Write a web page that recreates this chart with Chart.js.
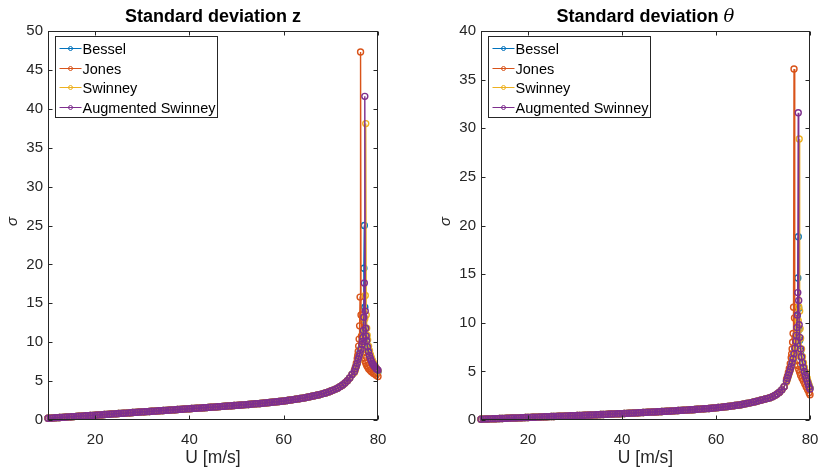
<!DOCTYPE html>
<html>
<head>
<meta charset="utf-8">
<script src="https://cdn.jsdelivr.net/npm/chart.js@4/dist/chart.umd.min.js"></script>
<style>
  html, body { margin: 0; padding: 0; background: #fff; }
  #wrap { position: relative; width: 821px; height: 476px; overflow: hidden; }
  #wrap canvas { position: absolute; top: 0; }
</style>
</head>
<body>
<div id="wrap">
  <canvas id="cz" width="410" height="476" style="left:0"></canvas>
  <canvas id="ct" width="411" height="476" style="left:410px"></canvas>
</div>
<script>
// Wind speed grid shared by all models below the flutter region [m/s]
const U_BASE = [
  10, 10.5, 11, 11.5, 12, 12.5, 13, 13.5, 14, 14.5,
  15, 15.5, 16, 16.5, 17, 17.5, 18, 18.5, 19, 19.5,
  20, 20.5, 21, 21.5, 22, 22.5, 23, 23.5, 24, 24.5,
  25, 25.5, 26, 26.5, 27, 27.5, 28, 28.5, 29, 29.5,
  30, 30.5, 31, 31.5, 32, 32.5, 33, 33.5, 34, 34.5,
  35, 35.5, 36, 36.5, 37, 37.5, 38, 38.5, 39, 39.5,
  40, 40.5, 41, 41.5, 42, 42.5, 43, 43.5, 44, 44.5,
  45, 45.5, 46, 46.5, 47, 47.5, 48, 48.5, 49, 49.5,
  50, 50.5, 51, 51.5, 52, 52.5, 53, 53.5, 54, 54.5,
  55, 55.5, 56, 56.5, 57, 57.5, 58, 58.5, 59, 59.5,
  60, 60.5, 61, 61.5, 62, 62.5, 63, 63.5, 64, 64.5,
  65, 65.5, 66, 66.5, 67, 67.5, 68, 68.5, 69, 69.5,
  70, 70.5, 71, 71.5, 72, 72.5, 73, 73.5, 74, 74.5
];

// Standard deviation of heave z (all models coincide here)
const Z_BASE = [
  0.22, 0.24, 0.26, 0.28, 0.30, 0.32, 0.34, 0.36, 0.38, 0.40,
  0.42, 0.44, 0.46, 0.48, 0.50, 0.52, 0.54, 0.56, 0.58, 0.60,
  0.62, 0.64, 0.66, 0.68, 0.70, 0.72, 0.74, 0.77, 0.79, 0.81,
  0.83, 0.85, 0.87, 0.89, 0.91, 0.93, 0.96, 0.98, 1.00, 1.02,
  1.04, 1.06, 1.08, 1.10, 1.12, 1.14, 1.16, 1.18, 1.20, 1.22,
  1.24, 1.26, 1.28, 1.30, 1.32, 1.35, 1.37, 1.39, 1.41, 1.43,
  1.45, 1.47, 1.49, 1.51, 1.53, 1.55, 1.57, 1.59, 1.62, 1.64,
  1.66, 1.68, 1.70, 1.72, 1.75, 1.77, 1.79, 1.81, 1.83, 1.86,
  1.88, 1.90, 1.93, 1.95, 1.98, 2.00, 2.03, 2.05, 2.08, 2.10,
  2.13, 2.16, 2.19, 2.22, 2.25, 2.28, 2.31, 2.34, 2.38, 2.41,
  2.45, 2.49, 2.53, 2.57, 2.62, 2.66, 2.71, 2.76, 2.81, 2.86,
  2.92, 2.98, 3.05, 3.11, 3.18, 3.25, 3.33, 3.42, 3.51, 3.61,
  3.72, 3.84, 3.97, 4.12, 4.30, 4.50, 4.75, 5.05, 5.40, 5.85
];

// Standard deviation of pitch theta (all models coincide here)
const TH_BASE = [
  0.08, 0.09, 0.10, 0.11, 0.12, 0.125, 0.13, 0.14, 0.15, 0.16,
  0.17, 0.18, 0.19, 0.20, 0.205, 0.21, 0.22, 0.23, 0.24, 0.25,
  0.26, 0.27, 0.28, 0.29, 0.30, 0.31, 0.32, 0.33, 0.34, 0.35,
  0.355, 0.36, 0.37, 0.38, 0.39, 0.40, 0.41, 0.42, 0.43, 0.44,
  0.45, 0.46, 0.47, 0.48, 0.49, 0.50, 0.51, 0.52, 0.53, 0.54,
  0.55, 0.56, 0.57, 0.58, 0.59, 0.61, 0.62, 0.63, 0.64, 0.65,
  0.66, 0.67, 0.68, 0.70, 0.71, 0.72, 0.73, 0.74, 0.76, 0.77,
  0.78, 0.79, 0.81, 0.82, 0.83, 0.85, 0.86, 0.87, 0.89, 0.90,
  0.91, 0.93, 0.94, 0.96, 0.97, 0.99, 1.00, 1.02, 1.03, 1.05,
  1.06, 1.08, 1.10, 1.12, 1.14, 1.16, 1.17, 1.19, 1.21, 1.23,
  1.25, 1.28, 1.30, 1.33, 1.36, 1.39, 1.42, 1.45, 1.49, 1.52,
  1.55, 1.59, 1.64, 1.69, 1.74, 1.79, 1.85, 1.91, 1.97, 2.03,
  2.10, 2.16, 2.22, 2.30, 2.40, 2.52, 2.67, 2.86, 3.10, 3.42
];

// Flutter region, heave z, per model
const BESSEL_Z_U = [75.0, 75.2, 75.4, 75.6, 75.8, 76.0, 76.2, 76.4, 76.6, 76.7, 76.8, 76.9, 77.0, 77.1, 77.2, 77.3, 77.4, 77.6, 77.8, 78.0, 78.2, 78.4, 78.6, 78.8, 79.0, 79.2, 79.4, 79.6, 79.8, 80.0];
const BESSEL_Z   = [6.3, 6.6, 7.0, 7.4, 7.9, 8.3, 8.7, 9.2, 9.9, 10.4, 11.2, 13.0, 19.5, 25.0, 14.5, 11.8, 10.6, 9.7, 9.0, 8.5, 8.1, 7.8, 7.5, 7.3, 7.1, 6.9, 6.7, 6.5, 6.35, 6.2];

const JONES_Z_U = [75.0, 75.2, 75.4, 75.6, 75.7, 75.8, 75.9, 76.0, 76.1, 76.2, 76.3, 76.4, 76.5, 76.6, 76.7, 76.8, 77.0, 77.2, 77.4, 77.6, 77.8, 78.0, 78.3, 78.6, 79.0, 79.3, 79.6, 80.0];
const JONES_Z   = [6.4, 6.8, 7.3, 7.9, 8.3, 8.8, 9.5, 10.4, 12.1, 15.8, 47.3, 13.5, 10.8, 9.6, 9.0, 8.6, 8.0, 7.6, 7.3, 7.0, 6.8, 6.6, 6.4, 6.2, 6.0, 5.9, 5.75, 5.6];

const SWINNEY_Z_U = [75.0, 75.2, 75.4, 75.6, 75.8, 76.0, 76.2, 76.4, 76.6, 76.8, 77.0, 77.1, 77.2, 77.3, 77.4, 77.5, 77.6, 77.7, 77.8, 78.0, 78.2, 78.4, 78.6, 78.8, 79.0, 79.2, 79.4, 79.6, 79.8, 80.0];
const SWINNEY_Z   = [6.1, 6.4, 6.8, 7.2, 7.6, 8.0, 8.4, 8.8, 9.3, 9.9, 10.8, 11.5, 13.0, 16.0, 38.1, 13.5, 11.8, 10.9, 10.3, 9.5, 8.9, 8.4, 8.0, 7.7, 7.4, 7.1, 6.9, 6.7, 6.5, 6.3];

const AUG_Z_U = [75.0, 75.2, 75.4, 75.6, 75.8, 76.0, 76.2, 76.4, 76.6, 76.7, 76.8, 76.9, 77.0, 77.1, 77.2, 77.3, 77.4, 77.5, 77.6, 77.8, 78.0, 78.2, 78.4, 78.6, 78.8, 79.0, 79.2, 79.4, 79.6, 79.8, 80.0];
const AUG_Z   = [6.2, 6.6, 6.9, 7.3, 7.8, 8.2, 8.6, 9.1, 9.7, 10.1, 10.6, 11.5, 13.2, 17.6, 41.6, 14.0, 11.8, 10.8, 10.2, 9.4, 8.8, 8.3, 7.9, 7.6, 7.3, 7.1, 6.9, 6.8, 6.6, 6.5, 6.4];

// Flutter region, pitch theta, per model
const BESSEL_TH_U = [75.0, 75.2, 75.4, 75.6, 75.8, 76.0, 76.2, 76.4, 76.6, 76.8, 77.0, 77.1, 77.2, 77.3, 77.4, 77.5, 77.6, 77.7, 77.8, 78.0, 78.2, 78.4, 78.6, 78.8, 79.0, 79.2, 79.4, 79.6, 79.8, 80.0];
const BESSEL_TH   = [4.0, 4.3, 4.6, 4.9, 5.2, 5.5, 5.9, 6.3, 6.8, 7.3, 8.0, 8.5, 9.3, 10.7, 14.6, 18.85, 11.5, 9.3, 8.2, 7.1, 6.4, 5.8, 5.4, 5.0, 4.7, 4.4, 4.1, 3.8, 3.5, 3.3];

const JONES_TH_U = [75.0, 75.2, 75.4, 75.6, 75.8, 76.0, 76.1, 76.2, 76.3, 76.4, 76.5, 76.6, 76.7, 76.8, 76.9, 77.0, 77.2, 77.4, 77.6, 77.8, 78.0, 78.3, 78.6, 78.9, 79.2, 79.5, 79.8, 80.0];
const JONES_TH   = [4.2, 4.5, 4.9, 5.3, 5.8, 6.4, 6.8, 7.3, 8.0, 8.9, 11.6, 36.1, 10.5, 8.4, 7.4, 6.8, 6.1, 5.6, 5.2, 4.9, 4.6, 4.3, 4.0, 3.7, 3.4, 3.1, 2.8, 2.6];

const SWINNEY_TH_U = [75.0, 75.2, 75.4, 75.6, 75.8, 76.0, 76.2, 76.4, 76.6, 76.8, 77.0, 77.2, 77.3, 77.4, 77.5, 77.6, 77.7, 77.8, 77.9, 78.0, 78.2, 78.4, 78.6, 78.8, 79.0, 79.2, 79.4, 79.6, 79.8, 80.0];
const SWINNEY_TH   = [3.9, 4.2, 4.5, 4.8, 5.1, 5.4, 5.7, 6.1, 6.5, 7.0, 7.6, 8.3, 8.8, 9.4, 10.2, 11.65, 28.9, 11.2, 9.4, 8.4, 7.3, 6.5, 5.9, 5.4, 5.0, 4.6, 4.3, 3.9, 3.6, 3.3];

const AUG_TH_U = [75.0, 75.2, 75.4, 75.6, 75.8, 76.0, 76.2, 76.4, 76.6, 76.8, 77.0, 77.1, 77.2, 77.3, 77.4, 77.5, 77.6, 77.7, 77.8, 78.0, 78.2, 78.4, 78.6, 78.8, 79.0, 79.2, 79.4, 79.6, 79.8, 80.0];
const AUG_TH   = [4.0, 4.3, 4.6, 4.9, 5.2, 5.5, 5.9, 6.3, 6.8, 7.4, 8.1, 8.7, 9.5, 10.8, 13.1, 31.6, 12.3, 9.8, 8.5, 7.3, 6.5, 5.9, 5.4, 5.0, 4.6, 4.3, 4.0, 3.7, 3.4, 3.2];

const MODEL_NAMES  = ['Bessel', 'Jones', 'Swinney', 'Augmented Swinney'];
const MODEL_COLORS = ['#0072BD', '#D95319', '#EDB120', '#7E2F8E'];
const X_TICKS = [20, 40, 60, 80];

const FONT = "'Liberation Sans', Arial, Helvetica, sans-serif";
const AXIS_COLOR = '#262626';

function toPoints(us, vs) {
  return us.map((u, i) => ({ x: u, y: vs[i] }));
}

function buildDatasets(base, peaks) {
  return MODEL_NAMES.map((name, k) => ({
    label: name,
    data: toPoints(U_BASE, base).concat(toPoints(peaks[k][0], peaks[k][1])),
    showLine: true,
    borderColor: MODEL_COLORS[k],
    backgroundColor: MODEL_COLORS[k],
    borderWidth: 1.4,
    pointRadius: 3,
    pointBorderWidth: 1.4,
    pointBorderColor: MODEL_COLORS[k],
    pointBackgroundColor: 'rgba(255,255,255,0)',
    pointHoverRadius: 3,
    tension: 0,
    fill: false,
    clip: 4,
    order: MODEL_NAMES.length - k   // later models drawn on top
  }));
}

// Box, inward ticks, titles and the in-axes legend
const framePlugin = {
  id: 'frame',
  afterDraw(chart, args, opts) {
    const { ctx, chartArea: a } = chart;
    const xs = chart.scales.x, ys = chart.scales.y;
    ctx.save();
    ctx.strokeStyle = AXIS_COLOR;
    ctx.lineWidth = 1;
    const L = Math.round(a.left) + 0.5, R = Math.round(a.right) - 0.5;
    const T = Math.round(a.top) + 0.5, B = Math.round(a.bottom) - 0.5;
    ctx.strokeRect(L, T, R - L, B - T);
    ctx.beginPath();
    xs.ticks.forEach(t => {
      const px = Math.round(xs.getPixelForValue(t.value)) + 0.5;
      ctx.moveTo(px, B); ctx.lineTo(px, B - 4);
      ctx.moveTo(px, T); ctx.lineTo(px, T + 4);
    });
    ys.ticks.forEach(t => {
      const py = Math.round(ys.getPixelForValue(t.value)) + 0.5;
      ctx.moveTo(L, py); ctx.lineTo(L + 4, py);
      ctx.moveTo(R, py); ctx.lineTo(R - 4, py);
    });
    ctx.stroke();

    const cx = (a.left + a.right) / 2;

    // title: bold text plus a symbol
    ctx.fillStyle = '#000';
    ctx.textBaseline = 'middle';
    const boldFont = 'bold 18px ' + FONT;
    const symFont = opts.symbolSerif ? "italic 18px 'DejaVu Serif', 'Liberation Serif', serif" : boldFont;
    ctx.font = boldFont;
    const w1 = ctx.measureText(opts.title).width;
    ctx.font = symFont;
    const w2 = ctx.measureText(opts.symbol).width;
    const tx = cx - (w1 + w2) / 2;
    ctx.textAlign = 'left';
    ctx.font = boldFont;
    ctx.fillText(opts.title, tx, 17);
    ctx.font = symFont;
    ctx.fillText(opts.symbol, tx + w1, 17);

    // x axis label
    ctx.fillStyle = AXIS_COLOR;
    ctx.font = '17.5px ' + FONT;
    ctx.textAlign = 'center';
    ctx.fillText('U [m/s]', cx, 458);

    // y axis label
    ctx.save();
    ctx.translate(a.left - 35, (a.top + a.bottom) / 2 - 4);
    ctx.rotate(-Math.PI / 2);
    ctx.font = 'italic 15px ' + FONT;
    ctx.fillText('σ', 0, 0);
    ctx.restore();

    // legend
    const bx = Math.round(a.left + 7) + 0.5, by = 36.5, bw = 162, bh = 81;
    ctx.fillStyle = '#fff';
    ctx.fillRect(bx, by, bw, bh);
    ctx.strokeStyle = AXIS_COLOR;
    ctx.lineWidth = 1;
    ctx.strokeRect(bx, by, bw, bh);
    ctx.font = '14.5px ' + FONT;
    ctx.textAlign = 'left';
    chart.data.datasets.forEach((ds, i) => {
      const ly = Math.round(by + 11.5 + i * 19.7) + 0.5;
      ctx.strokeStyle = ds.borderColor;
      ctx.lineWidth = 1;
      ctx.beginPath();
      ctx.moveTo(bx + 4, ly); ctx.lineTo(bx + 26, ly);
      ctx.stroke();
      ctx.beginPath();
      ctx.arc(bx + 15, ly, 2, 0, Math.PI * 2);
      ctx.stroke();
      ctx.fillStyle = '#000';
      ctx.fillText(ds.label, bx + 27, ly + 1);
    });
    ctx.restore();
  }
};

function makeChart(id, datasets, cfg) {
  return new Chart(document.getElementById(id), {
    type: 'scatter',
    data: { datasets },
    options: {
      responsive: false,
      animation: false,
      devicePixelRatio: 1,
      events: [],
      layout: { padding: { left: 0, right: cfg.padRight, top: 31, bottom: 0 } },
      plugins: {
        legend: { display: false },
        tooltip: { enabled: false },
        title: { display: false },
        frame: { title: cfg.title, symbol: cfg.symbol, symbolSerif: cfg.symbolSerif }
      },
      scales: {
        x: {
          type: 'linear', min: 10, max: 80,
          afterBuildTicks: s => { s.ticks = X_TICKS.map(v => ({ value: v })); },
          afterFit: s => { s.height = 56; s.paddingLeft = 0; s.paddingRight = 0; },
          grid: { display: false, drawTicks: false },
          border: { display: false },
          ticks: { padding: 11, maxRotation: 0, autoSkip: false, color: AXIS_COLOR, font: { family: FONT, size: 15 } }
        },
        y: {
          type: 'linear', min: 0, max: cfg.ymax,
          afterFit: s => { s.width = cfg.yWidth; s.paddingTop = 0; s.paddingBottom = 0; },
          grid: { display: false, drawTicks: false },
          border: { display: false },
          ticks: { stepSize: 5, padding: 5, color: AXIS_COLOR, font: { family: FONT, size: 15 } }
        }
      }
    },
    plugins: [framePlugin]
  });
}

makeChart('cz', buildDatasets(Z_BASE, [
  [BESSEL_Z_U, BESSEL_Z], [JONES_Z_U, JONES_Z], [SWINNEY_Z_U, SWINNEY_Z], [AUG_Z_U, AUG_Z]
]), { ymax: 50, yWidth: 48, padRight: 32, title: 'Standard deviation ', symbol: 'z', symbolSerif: false });

makeChart('ct', buildDatasets(TH_BASE, [
  [BESSEL_TH_U, BESSEL_TH], [JONES_TH_U, JONES_TH], [SWINNEY_TH_U, SWINNEY_TH], [AUG_TH_U, AUG_TH]
]), { ymax: 40, yWidth: 71, padRight: 11, title: 'Standard deviation ', symbol: 'θ', symbolSerif: true });
</script>
</body>
</html>
